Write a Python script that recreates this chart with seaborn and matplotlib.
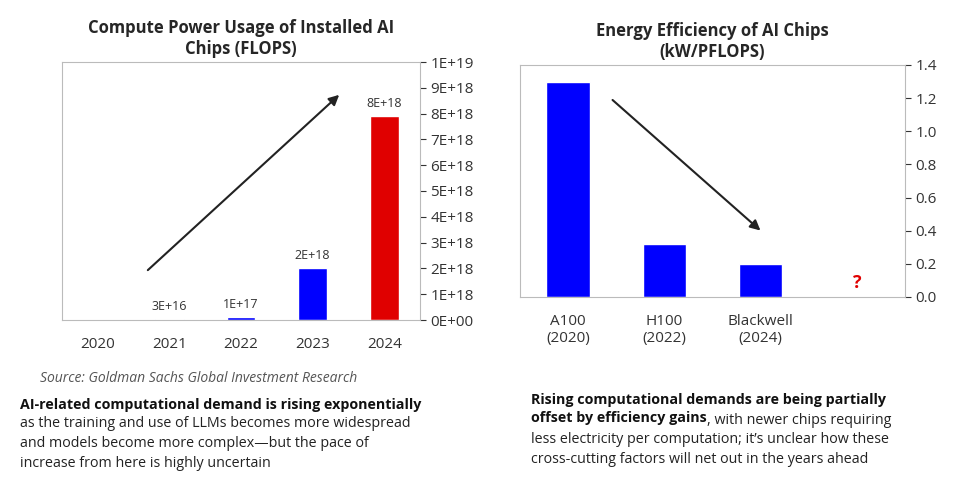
import matplotlib
matplotlib.use("Agg")
import matplotlib.pyplot as plt
import seaborn as sns
import pandas as pd

years = ["2020", "2021", "2022", "2023", "2024"]
flops = [0, 3e16, 1e17, 2e18, 7.9e18]
flops_labels = ["", "3E+16", "1E+17", "2E+18", "8E+18"]
left_colors = ["#0000FF", "#0000FF", "#0000FF", "#0000FF", "#E00000"]
left_ticks = [i * 1e18 for i in range(11)]
left_ticklabels = ["0E+00"] + [f"{i}E+18" for i in range(1, 10)] + ["1E+19"]

chips = ["A100\n(2020)", "H100\n(2022)", "Blackwell\n(2024)", " "]
eff = [1.30, 0.32, 0.20, 0]
right_ticks = [0.0, 0.2, 0.4, 0.6, 0.8, 1.0, 1.2, 1.4]

sns.set_theme(style="white")
plt.rcParams["font.family"] = ["Open Sans", "DejaVu Sans"]

fig = plt.figure(figsize=(9.73, 4.93), dpi=100)
ax1 = fig.add_axes([62/973, 1-320/493, 358/973, 258/493])
ax2 = fig.add_axes([520/973, 1-297/493, 385/973, 232/493])

df1 = pd.DataFrame({"year": years, "v": flops})
sns.barplot(data=df1, x="year", y="v", hue="year", palette=left_colors, legend=False,
            width=0.4, ax=ax1, saturation=1)
ax1.set_ylim(0, 1e19)
ax1.set_yticks(left_ticks)
ax1.set_yticklabels(left_ticklabels)
ax1.yaxis.tick_right()
for i, (v, t) in enumerate(zip(flops, flops_labels)):
    if t:
        ax1.text(i, v + 2.5e17, t, ha="center", va="bottom", fontsize=9, color="#333333")
ax1.annotate("", xy=(3.4, 8.8e18), xytext=(0.67, 1.86e18),
             arrowprops=dict(arrowstyle="-|>", color="#222222", lw=1.5, mutation_scale=15))
ax1.set_title("Compute Power Usage of Installed AI\nChips (FLOPS)", fontsize=12, fontweight="bold", pad=6)

df2 = pd.DataFrame({"chip": chips, "v": eff})
sns.barplot(data=df2, x="chip", y="v", color="#0000FF", width=0.45, ax=ax2, saturation=1)
ax2.set_ylim(0, 1.4)
ax2.set_yticks(right_ticks)
ax2.set_yticklabels([f"{t:.1f}" for t in right_ticks])
ax2.yaxis.tick_right()
ax2.text(3, 0.03, "?", color="#E00000", fontsize=13, fontweight="bold", ha="center", va="bottom")
ax2.annotate("", xy=(2.02, 0.39), xytext=(0.44, 1.20),
             arrowprops=dict(arrowstyle="-|>", color="#222222", lw=1.5, mutation_scale=15))
ax2.set_title("Energy Efficiency of AI Chips\n(kW/PFLOPS)", fontsize=12, fontweight="bold", pad=6)

for ax in (ax1, ax2):
    ax.set_xlabel("")
    ax.set_ylabel("")
    ax.tick_params(axis="both", labelsize=11, colors="#333333", length=4, width=0.8)
    ax.tick_params(axis="y", right=True, direction="out")
    ax.tick_params(axis="x", bottom=False, pad=8)
    for s in ax.spines.values():
        s.set_color("#BBBBBB")
        s.set_linewidth(0.8)

fs = 10.3
fig.text(40/973, 1-378/493, "Source: Goldman Sachs Global Investment Research", fontsize=10,
         style="italic", color="#555555", va="center")
fig.text(20/973, 1-405/493, "AI-related computational demand is rising exponentially", fontsize=fs,
         fontweight="bold", color="#111111", va="center")
fig.text(20/973, 1-416/493, "as the training and use of LLMs becomes more widespread\nand models become more complex\u2014but the pace of\nincrease from here is highly uncertain",
         fontsize=fs, color="#222222", va="top", linespacing=1.45)
fig.text(531/973, 1-409/493, "Rising computational demands are being partially\noffset by efficiency gains", fontsize=fs,
         fontweight="bold", color="#111111", va="center", linespacing=1.45)
b2 = fig.text(531/973, 1-420/493, "offset by efficiency gains", fontsize=fs, fontweight="bold",
              color="none", va="center")
fig.canvas.draw()
fig.text(b2.get_window_extent().x1 / fig.bbox.width, 1-420/493, ", with newer chips requiring",
         fontsize=fs, color="#222222", va="center")
fig.text(531/973, 1-432/493, "less electricity per computation; it\u2019s unclear how these\ncross-cutting factors will net out in the years ahead",
         fontsize=fs, color="#222222", va="top", linespacing=1.45)

fig.savefig("out.png", dpi=100)
